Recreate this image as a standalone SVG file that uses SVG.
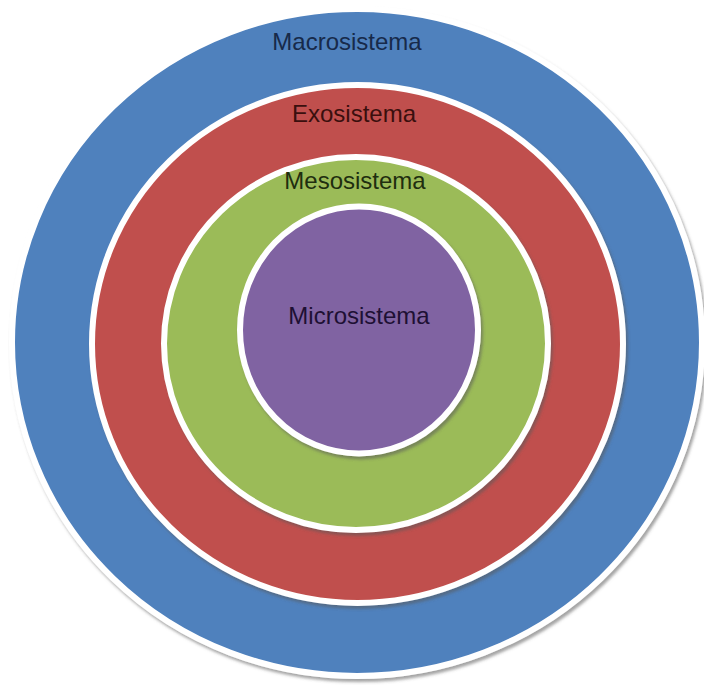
<svg xmlns="http://www.w3.org/2000/svg" width="704" height="687" viewBox="0 0 704 687">
  <defs>
    <filter id="ringShadow" x="-5%" y="-5%" width="112%" height="112%">
      <feDropShadow dx="2" dy="3" stdDeviation="1.6" flood-color="#5a5a5a" flood-opacity="0.55"/>
    </filter>
  </defs>
  <style>
    .ring { stroke: #ffffff; stroke-width: 6; filter: url(#ringShadow); }
    .label { font-family: "Liberation Sans", Arial, sans-serif; font-size: 24px; text-anchor: middle; }
  </style>
  <rect width="704" height="687" fill="#ffffff"/>

  <g id="macrosistema">
    <ellipse class="ring" cx="357" cy="342.5" rx="345" ry="333.5" fill="#4f81bd"/>
    <text class="label" x="347" y="50" fill="#172a4a">Macrosistema</text>
  </g>

  <g id="exosistema">
    <ellipse class="ring" cx="357.5" cy="344" rx="265.5" ry="259" fill="#c0504d"/>
    <text class="label" x="354" y="122" fill="#3a0f0e">Exosistema</text>
  </g>

  <g id="mesosistema">
    <ellipse class="ring" cx="356" cy="343.5" rx="192" ry="186.5" fill="#9bbb59"/>
    <text class="label" x="355" y="189" fill="#1f2e0f">Mesosistema</text>
  </g>

  <g id="microsistema">
    <ellipse class="ring" cx="359" cy="330" rx="119" ry="123.5" fill="#8064a2"/>
    <text class="label" x="359" y="324" fill="#1e1034">Microsistema</text>
  </g>

  <g id="connectors"/>
</svg>
